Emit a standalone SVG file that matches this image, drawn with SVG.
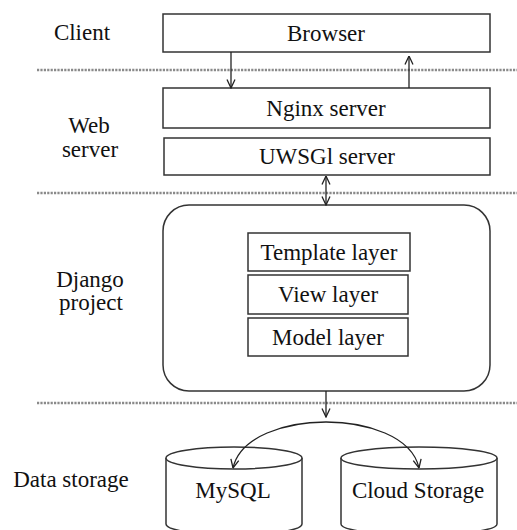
<svg xmlns="http://www.w3.org/2000/svg" width="517" height="530" viewBox="0 0 517 530">
<style>
text{font-size:23px;fill:#111;text-anchor:middle}
.box{fill:#fff;stroke:#333;stroke-width:1.5}
.sep{stroke:#8a8a8a;stroke-width:2.5;stroke-dasharray:2.2 1.2}
.con{fill:none;stroke:#222;stroke-width:1.3}
</style>
<defs>
<marker id="ah" viewBox="0 0 10 10" refX="9.5" refY="5" markerWidth="10" markerHeight="10" markerUnits="userSpaceOnUse" orient="auto-start-reverse">
<path d="M1,1 L9.5,5 L1,9" fill="none" stroke="#222" stroke-width="1.3"/>
</marker>
</defs>
<rect width="517" height="530" fill="#fff"/>
<g id="separators">
<line class="sep" x1="37" y1="70" x2="517" y2="70"/>
<line class="sep" x1="37" y1="193" x2="517" y2="193"/>
<line class="sep" x1="37" y1="403" x2="517" y2="403"/>
</g>
<g id="diagram" font-family="Liberation Serif, DejaVu Serif, serif">
<g id="labels">
<text x="82" y="40">Client</text>
<text x="89" y="133">Web</text>
<text x="90" y="157">server</text>
<text x="90" y="287">Django</text>
<text x="91" y="310">project</text>
<text x="71" y="487">Data storage</text>
</g>
<g id="browser"><rect class="box" x="163" y="14" width="327" height="38"/><text x="326" y="41">Browser</text></g>
<g id="nginx"><rect class="box" x="163" y="88" width="327" height="40"/><text x="326" y="116">Nginx server</text></g>
<g id="uwsgi"><rect class="box" x="164" y="138" width="326" height="37"/><text x="327" y="164">UWSGl server</text></g>
<g id="django"><rect class="box" x="163" y="205" width="327" height="186" rx="26" ry="26"/></g>
<g id="template"><rect class="box" x="248" y="233" width="162" height="38"/><text x="329" y="260">Template layer</text></g>
<g id="view"><rect class="box" x="248" y="275" width="160" height="39"/><text x="328" y="302">View layer</text></g>
<g id="model"><rect class="box" x="248" y="318" width="160" height="38"/><text x="328" y="345">Model layer</text></g>
<g id="mysql">
<path class="box" d="M166,458 V524 A68 11 0 0 0 302 524 V458"/>
<ellipse class="box" cx="234" cy="458" rx="68" ry="11"/>
<text x="233" y="498">MySQL</text>
</g>
<g id="cloud">
<path class="box" d="M341,458 V524 A78 11 0 0 0 497 524 V458"/>
<ellipse class="box" cx="419" cy="458" rx="78" ry="11"/>
<text x="418" y="498">Cloud Storage</text>
</g>
</g>
<g id="connectors">
<line class="con" x1="231" y1="52" x2="231" y2="88" marker-end="url(#ah)"/>
<line class="con" x1="409" y1="88" x2="409" y2="56" marker-end="url(#ah)"/>
<line class="con" x1="326" y1="176" x2="326" y2="205" marker-start="url(#ah)" marker-end="url(#ah)"/>
<line class="con" x1="326" y1="391" x2="326" y2="417" marker-end="url(#ah)"/>
<path class="con" d="M326,422 C286,422 240,436 233,468" marker-end="url(#ah)"/>
<path class="con" d="M326,422 C366,422 412,436 419,468" marker-end="url(#ah)"/>
</g>
</svg>
